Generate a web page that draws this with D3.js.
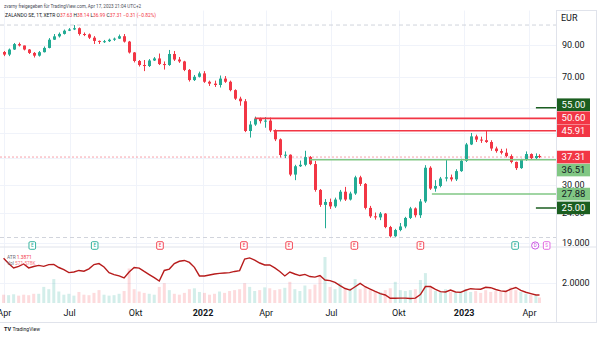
<!DOCTYPE html>
<html><head><meta charset="utf-8">
<script src="https://cdn.jsdelivr.net/npm/d3@7"></script>
<style>body{margin:0;background:#fff;} svg{display:block;font-family:Roboto,"Noto Sans",sans-serif;}</style>
</head><body><svg id="c" width="600" height="337"></svg>
<script>
// ---------- DATA (weekly bars) ----------
const firstMonday = new Date(2021, 2, 29);
const lastMonday = new Date(2023, 3, 17);
const opens = [85.3,83.6,87.0,90.8,89.8,87.0,84.7,82.9,85.2,88.1,94.0,96.5,98.4,100.9,101.9,102.9,98.3,98.0,95.5,93.1,92.6,92.9,94.0,94.8,96.6,92.6,85.0,79.5,77.0,76.4,79.8,81.1,77.6,77.0,84.0,80.4,79.2,74.1,68.4,70.2,72.1,67.5,66.5,65.8,69.2,67.5,63.2,59.1,57.9,45.8,48.2,50.5,49.5,49.7,46.0,42.9,37.9,38.0,32.5,34.7,35.1,37.3,35.3,28.8,25.6,26.2,25.3,26.7,28.4,26.7,28.0,31.8,30.2,25.0,23.4,23.2,23.9,21.5,20.0,21.0,21.6,23.1,24.9,23.6,26.3,34.3,29.1,29.7,31.5,31.8,31.3,33.4,36.2,41.2,43.9,42.8,42.6,42.0,39.9,39.1,38.6,37.6,35.9,34.2,36.5,38.2,37.0,37.63];
const highs = [86.0,87.7,91.6,91.9,89.8,87.3,85.3,86.0,89.1,95.2,98.3,99.5,101.8,103.0,105.5,103.5,99.5,98.7,96.7,93.4,93.8,94.8,95.6,97.9,98.3,93.1,85.3,80.1,80.1,80.7,82.0,84.3,79.2,86.7,86.0,82.0,79.6,74.6,71.2,73.1,73.4,68.1,68.1,70.9,70.6,68.1,63.6,60.0,58.9,49.5,51.3,50.9,51.1,50.9,46.4,43.2,39.0,38.1,35.1,36.3,39.2,37.6,36.2,29.0,26.8,26.9,27.1,28.8,29.5,28.4,32.2,32.2,30.4,25.4,24.1,24.2,24.0,21.7,21.2,22.2,23.3,25.2,25.1,26.8,35.0,34.7,31.1,31.9,36.5,32.5,33.9,36.8,41.7,45.1,44.5,43.8,46.0,42.6,40.5,39.8,39.9,38.1,36.0,36.8,39.0,38.4,38.4,38.14];
const lows = [82.6,82.6,86.7,89.1,86.4,84.0,81.7,82.3,85.0,87.8,93.8,95.6,97.9,100.6,101.4,97.1,96.7,94.5,90.9,90.9,91.6,92.3,93.1,94.5,91.9,84.3,78.6,76.1,73.4,75.8,79.5,77.0,74.3,76.5,79.5,78.3,73.4,67.6,67.9,69.8,66.9,65.3,64.8,64.5,66.9,62.6,58.5,55.9,45.4,43.5,47.7,48.6,47.0,45.4,42.3,37.2,37.0,32.1,31.1,34.5,34.7,35.0,28.4,25.2,21.3,24.8,25.0,26.3,26.4,26.5,27.7,29.7,24.7,23.1,22.8,22.7,21.3,19.8,19.9,20.8,21.3,22.9,23.2,23.1,26.0,28.8,28.4,29.4,30.8,30.8,30.9,33.2,35.9,41.0,42.0,41.7,41.7,39.2,38.6,38.1,37.2,35.5,33.7,34.0,36.2,36.5,36.5,36.99];
const closes = [83.6,87.0,90.8,89.8,87.0,84.7,82.9,85.2,88.1,94.0,96.5,98.4,100.9,101.9,102.9,98.3,98.0,95.5,93.1,92.6,92.9,94.0,94.8,96.6,92.6,85.0,79.5,77.0,76.4,79.8,81.1,77.6,77.0,84.0,80.4,79.2,74.1,68.4,70.2,72.1,67.5,66.5,65.8,69.2,67.5,63.2,59.1,57.9,45.8,48.2,50.5,49.5,49.7,46.0,42.9,37.9,38.0,32.5,34.7,35.1,37.3,35.3,28.8,25.6,26.2,25.3,26.7,28.4,26.7,28.0,31.8,30.2,25.0,23.4,23.2,23.9,21.5,20.0,21.0,21.6,23.1,24.9,23.6,26.3,34.3,29.1,29.7,31.5,31.8,31.3,33.4,36.2,41.2,43.9,42.8,42.6,42.0,39.9,39.1,38.6,37.6,35.9,34.2,36.5,38.2,37.0,37.62,37.31];
const volumes = [1.8,1.7,1.9,1.6,1.8,1.7,2.0,2.0,3.5,3.0,5.2,2.5,1.8,2.0,1.6,2.4,1.8,1.7,2.2,2.8,1.8,1.6,1.7,2.0,2.6,7.5,3.0,2.5,2.2,2.0,1.8,3.5,4.3,2.8,2.0,1.8,2.2,3.0,3.2,2.4,2.2,1.8,2.0,2.5,2.2,2.6,2.8,3.0,4.3,3.5,2.6,2.8,3.4,3.2,2.8,3.0,3.3,4.6,3.0,2.6,3.8,3.0,4.0,6.0,10.0,3.5,3.0,4.3,3.0,3.2,5.2,3.0,3.5,2.8,2.6,2.4,2.8,3.2,4.6,2.8,2.6,2.8,3.0,5.0,6.5,3.5,2.6,2.4,3.0,2.4,2.2,2.6,3.0,2.4,2.6,2.2,2.8,2.4,2.6,2.4,2.8,3.4,2.8,2.4,2.0,1.8,1.6,1.2];
const atr = [3.26,2.99,2.77,2.85,2.97,2.77,2.84,2.90,2.85,2.94,2.95,2.79,2.68,2.53,2.56,2.64,2.60,2.72,2.94,2.99,2.82,2.53,2.43,2.36,2.26,2.56,2.79,2.76,2.59,2.43,2.27,2.10,2.64,2.71,2.99,3.11,3.15,3.05,2.80,2.36,2.36,2.41,2.46,2.49,2.51,2.53,2.59,2.63,3.22,3.28,3.17,3.02,2.92,2.92,2.77,2.59,2.36,2.56,2.46,2.38,2.44,2.33,2.30,2.38,2.15,2.12,2.03,1.87,1.72,1.64,1.81,1.98,1.81,1.69,1.57,1.46,1.39,1.22,1.22,1.23,1.23,1.21,1.23,1.41,1.82,1.82,1.68,1.56,1.54,1.64,1.54,1.52,1.63,1.71,1.69,1.68,1.78,1.76,1.67,1.60,1.57,1.69,1.77,1.62,1.53,1.46,1.39,1.3871];

// horizontal level lines (price, start date, style)
const levelPrices = [55.00, 50.60, 45.91, 36.51, 27.88, 25.00];
const levelStarts = ["2023-04-12","2022-03-16","2022-04-11","2022-06-01","2022-11-18","2023-04-12"];
const levelKinds  = ["dark","red","red","light","light","dark"];
const lastPrice = 37.31;

const priceTicks = [19, 24, 30, 37, 45, 55, 70, 90];
const priceTickLabels = ["19.000","24.00","30.00","37.00","45.00","55.00","70.00","90.00"];
const timeTicks = ["2021-04-01","2021-07-01","2021-10-01","2022-01-03","2022-04-01","2022-07-01","2022-10-03","2023-01-02","2023-04-03"];
const timeTickLabels = ["Apr","Jul","Okt","2022","Apr","Jul","Okt","2023","Apr"];
const atrTicks = [2.0];
const atrTickLabels = ["2.0000"];

const eventDates = ["2021-05-10","2021-08-05","2021-11-04","2022-03-01","2022-05-03","2022-08-02","2022-11-02","2023-03-14","2023-04-11","2023-04-27"];
const eventKinds = ["up","up","down","down","down","down","down","up","div","split"];

// ---------- LAYOUT ----------
const parse = d3.timeParse("%Y-%m-%d");
const svg = d3.select("#c");
const axisX = 556, paneTop = 10.5, paneSep = 247, lowBottom = 303, frameBottom = 322;

const weeks = d3.timeMonday.range(firstMonday, d3.timeDay.offset(lastMonday, 1));
const barDates = weeks.map((d, i) => i === weeks.length - 1 ? d : d3.timeDay.offset(d, 2));
const bars = barDates.map((d, i) => ({d, o: opens[i], h: highs[i], l: lows[i], c: closes[i], v: volumes[i], a: atr[i]}));

const x = d3.scaleTime().domain([new Date(2021, 2, 26), new Date(2023, 4, 10)]).range([0, axisX]);
const y = d3.scaleLog().domain([19, 90]).range([242.75, 45.22]);
const yAtr = d3.scaleLinear().domain([1, 4]).range([302.6, 243.8]);
const yVol = d3.scaleLinear().domain([0, 10]).range([lowBottom, 257]);

const UP = "#22ab94", DOWN = "#f23645";
const GRID = "#f0f3fa", BORDER = "#e0e3eb", TXT = "#131722";

const defs = svg.append("defs");
defs.append("clipPath").attr("id", "mainClip").append("rect").attr("x", 0).attr("y", paneTop).attr("width", axisX).attr("height", paneSep - paneTop);
defs.append("clipPath").attr("id", "lowClip").append("rect").attr("x", 0).attr("y", paneSep).attr("width", axisX).attr("height", lowBottom - paneSep);

// grid
const grid = svg.append("g");
timeTicks.forEach(t => {
  const xx = Math.round(x(parse(t))) + 0.5;
  grid.append("line").attr("x1", xx).attr("x2", xx).attr("y1", paneTop).attr("y2", lowBottom).attr("stroke", GRID);
});
priceTicks.forEach(p => {
  const yy = Math.round(y(p)) + 0.5;
  grid.append("line").attr("x1", 0).attr("x2", axisX).attr("y1", yy).attr("y2", yy).attr("stroke", GRID);
});
atrTicks.forEach(p => {
  const yy = Math.round(yAtr(p)) + 0.5;
  grid.append("line").attr("x1", 0).attr("x2", axisX).attr("y1", yy).attr("y2", yy).attr("stroke", GRID);
});

// main pane
const main = svg.append("g").attr("clip-path", "url(#mainClip)");
[d3.max(highs), d3.min(lows)].forEach(p => {
  main.append("line").attr("x1", 0).attr("x2", axisX).attr("y1", y(p)).attr("y2", y(p))
    .attr("stroke", "#d1d4dc").attr("stroke-dasharray", "4,3").attr("stroke-width", 1);
});
main.append("line").attr("x1", 0).attr("x2", axisX).attr("y1", y(lastPrice)).attr("y2", y(lastPrice))
  .attr("stroke", "#f7a1a9").attr("stroke-dasharray", "2,2").attr("stroke-width", 1);

const cg = main.append("g");
cg.selectAll("line.wick").data(bars).join("line").attr("class", "wick")
  .attr("x1", d => Math.round(x(d.d)) + 0.5).attr("x2", d => Math.round(x(d.d)) + 0.5)
  .attr("y1", d => y(d.h)).attr("y2", d => y(d.l))
  .attr("stroke", d => d.c >= d.o ? UP : DOWN).attr("stroke-width", 1);
cg.selectAll("rect.body").data(bars).join("rect").attr("class", "body")
  .attr("x", d => Math.round(x(d.d)) - 1).attr("width", 3)
  .attr("y", d => Math.min(y(d.o), y(d.c)))
  .attr("height", d => Math.max(1, Math.abs(y(d.o) - y(d.c))))
  .attr("fill", d => d.c >= d.o ? UP : DOWN);

const levelColor = {dark: "#1b5e20", red: "#f23645", light: "#81c784"};
const levelWidth = {dark: 1.5, red: 1.6, light: 1.5};
levelPrices.forEach((p, i) => {
  main.append("line").attr("x1", x(parse(levelStarts[i]))).attr("x2", axisX)
    .attr("y1", y(p)).attr("y2", y(p))
    .attr("stroke", levelColor[levelKinds[i]]).attr("stroke-width", levelWidth[levelKinds[i]]);
});

// lower pane: volume + ATR
const low = svg.append("g").attr("clip-path", "url(#lowClip)");
low.selectAll("rect.vol").data(bars).join("rect").attr("class", "vol")
  .attr("x", d => x(d.d) - 1.5).attr("width", 3)
  .attr("y", d => yVol(d.v)).attr("height", d => yVol(0) - yVol(d.v))
  .attr("fill", d => d.c >= d.o ? "rgba(34,171,148,0.2)" : "rgba(242,54,69,0.18)");
low.append("path").datum(bars)
  .attr("d", d3.line().x(d => x(d.d)).y(d => yAtr(d.a)))
  .attr("fill", "none").attr("stroke", "#b71c1c").attr("stroke-width", 1.4);

// frame & separators
svg.append("line").attr("x1", axisX).attr("x2", 597).attr("y1", paneTop).attr("y2", paneTop).attr("stroke", BORDER);
svg.append("line").attr("x1", 596.5).attr("x2", 596.5).attr("y1", paneTop).attr("y2", frameBottom).attr("stroke", BORDER);
svg.append("line").attr("x1", 0).attr("x2", 597).attr("y1", frameBottom + 0.5).attr("y2", frameBottom + 0.5).attr("stroke", BORDER);
svg.append("line").attr("x1", 0).attr("x2", 597).attr("y1", paneSep).attr("y2", paneSep).attr("stroke", BORDER);
svg.append("line").attr("x1", axisX + 0.5).attr("x2", axisX + 0.5).attr("y1", paneTop).attr("y2", frameBottom).attr("stroke", BORDER);

// event markers
const evColor = {up: "#22ab94", down: "#f23645", div: "#c447e0", split: "#e05ce0"};
const evG = svg.append("g");
eventDates.forEach((d, i) => {
  const cx = x(parse(d)), cy = 245.5, k = eventKinds[i], col = evColor[k];
  if (k === "div") {
    evG.append("circle").attr("cx", cx).attr("cy", cy).attr("r", 3.6).attr("fill", "#fff").attr("stroke", col).attr("stroke-width", 0.9);
    evG.append("text").attr("x", cx).attr("y", cy + 1.7).attr("text-anchor", "middle").attr("font-size", 4.5).attr("fill", col).text("D");
  } else {
    evG.append("rect").attr("x", cx - 3.3).attr("y", cy - 3.8).attr("width", 6.6).attr("height", 7.6).attr("rx", 1.2)
      .attr("fill", "#fff").attr("stroke", col).attr("stroke-width", 0.9);
    evG.append("text").attr("x", cx).attr("y", cy + 1.7).attr("text-anchor", "middle").attr("font-size", 4.5).attr("fill", col)
      .text(k === "split" ? "S" : "E");
  }
});

// level label positions (last price label fixed, others pushed apart)
const boxH = 13;
const labels = levelPrices.map((p, i) => ({p, kind: levelKinds[i], y: y(p)}));
const lastY = y(lastPrice);
let prev = lastY;
labels.filter(l => l.p > lastPrice).sort((a, b) => a.p - b.p).forEach(l => { l.y = Math.min(l.y, prev - boxH); prev = l.y; });
prev = lastY;
labels.filter(l => l.p < lastPrice).sort((a, b) => b.p - a.p).forEach(l => { l.y = Math.max(l.y, prev + boxH); prev = l.y; });
const allBoxes = labels.concat([{p: lastPrice, kind: "last", y: lastY}]);

// price axis labels (skip those fully hidden behind a box)
const ax = svg.append("g").attr("font-size", 9).attr("fill", TXT);
priceTicks.forEach((p, i) => {
  const ty = y(p);
  const hidden = allBoxes.some(b => Math.abs(b.y - ty) < 4.5);
  if (!hidden) ax.append("text").attr("x", 562).attr("y", ty + 3.2).text(priceTickLabels[i]);
});
atrTicks.forEach((p, i) => {
  ax.append("text").attr("x", 562).attr("y", yAtr(p) + 3.2).text(atrTickLabels[i]);
});
ax.append("text").attr("x", 561).attr("y", 20.5).text("EUR");

const boxFill = {dark: "#1b5e20", red: "#f23645", light: "#81c784", last: "#f23645"};
const boxText = {dark: "#ffffff", red: "#ffffff", light: "#131722", last: "#ffffff"};
allBoxes.forEach(l => {
  ax.append("rect").attr("x", 557).attr("y", l.y - 6.3).attr("width", 33).attr("height", 12.6).attr("fill", boxFill[l.kind]);
  ax.append("text").attr("x", 573.5).attr("y", l.y + 3.3).attr("text-anchor", "middle").attr("font-size", 9.5)
    .attr("fill", boxText[l.kind]).text(l.p.toFixed(2));
});

// time axis
const tx = svg.append("g").attr("font-size", 9).attr("fill", TXT).attr("text-anchor", "middle");
timeTicks.forEach((t, i) => {
  tx.append("text").attr("x", x(parse(t))).attr("y", 316)
    .attr("font-weight", /^\d{4}$/.test(timeTickLabels[i]) ? "bold" : "normal").text(timeTickLabels[i]);
});

// header texts
svg.append("text").attr("x", 4).attr("y", 7.5).attr("font-size", 4.6).attr("fill", "#4a4e59")
  .text("zvarny freigegeben für TradingView.com, Apr 17, 2023 21:04 UTC+2");
const h2 = svg.append("text").attr("x", 5).attr("y", 17).attr("font-size", 4.9).attr("fill", TXT);
h2.append("tspan").text("ZALANDO SE, 1T, XETR  ");
[["O", "37.63"], ["H", "38.14"], ["L", "36.99"], ["C", "37.31"]].forEach(([k, v]) => {
  h2.append("tspan").attr("fill", TXT).text(k);
  h2.append("tspan").attr("fill", DOWN).text(v + " ");
});
h2.append("tspan").attr("fill", DOWN).text("−0.31 (−0.82%)");

// lower pane legend
const lg = svg.append("g").attr("font-size", 4.8);
const l1 = lg.append("text").attr("x", 7).attr("y", 258.5);
l1.append("tspan").attr("fill", "#6a6d78").text("ATR ");
l1.append("tspan").attr("fill", DOWN).text("1.3871");
const l2 = lg.append("text").attr("x", 7).attr("y", 265);
l2.append("tspan").attr("fill", "#6a6d78").text("Vol ");
l2.append("tspan").attr("fill", "#f7707a").text("571.578K");

// TradingView logo
const logo = svg.append("text").attr("x", 4).attr("y", 331).attr("font-size", 5).attr("fill", "#131722");
logo.append("tspan").attr("font-weight", "bold").attr("font-size", 5.5).text("TV ");
logo.append("tspan").text("TradingView");
</script></body></html>
